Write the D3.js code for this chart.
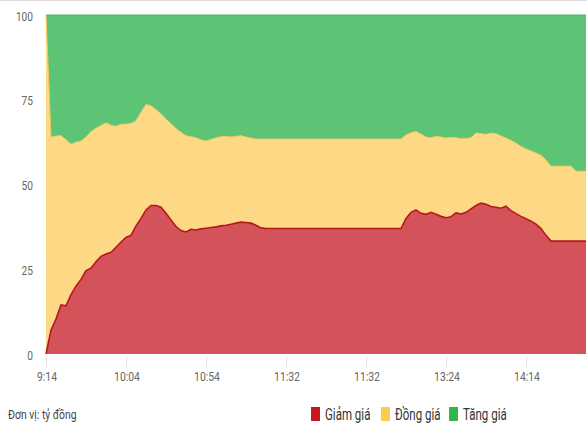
<!DOCTYPE html>
<html><head><meta charset="utf-8">
<script src="https://cdn.jsdelivr.net/npm/d3@7"></script>
<style>
html,body{margin:0;padding:0;background:#fff;}
svg{display:block;font-family:Roboto,"Open Sans",sans-serif;}
</style></head>
<body>
<svg id="chart" width="587" height="428"></svg>
<script>
// Data (percent share at each sampled time point)
const giamGia = [0,7,10.3,14.5,14.2,17.5,20,22,24.6,25.3,
27.2,28.8,29.5,30,31.5,33,34.4,35,37.8,40,
42.5,43.8,43.8,43.3,41.5,39.5,37.6,36.4,36,36.8,
36.6,36.9,37.1,37.3,37.5,37.8,38,38.3,38.6,38.9,
38.8,38.6,38.0,37.2,37,37,37,37,37,37,
37,37,37,37,37,37,37,37,37,37,
37,37,37,37,37,37,37,37,37,37,
37,37,40,41.8,42.5,41.5,41.2,41.8,41.2,40.6,
40.2,40.5,41.6,41.3,41.8,42.8,43.8,44.5,44.2,43.5,
43.3,43,43.6,42.3,41.4,40.6,39.9,39.2,38.3,37,
35,33.3,33.3,33.3,33.3,33.3,33.3,33.3,33.3];
const dongGia = [100,57,54,49.9,49,44.4,42.5,40.8,39.4,40.3,
39.4,38.6,38.7,37.5,35.7,34.8,33.4,33,31,31.3,
31.1,29.4,28.3,27.5,27.8,28.4,28.9,29,28.4,27.3,
27.2,26.3,25.7,26,26.3,26.3,26.2,25.7,25.6,25.5,
25.2,25.1,25.4,26.2,26.4,26.4,26.4,26.4,26.4,26.4,
26.4,26.4,26.4,26.4,26.4,26.4,26.4,26.4,26.4,26.4,
26.4,26.4,26.4,26.4,26.4,26.4,26.4,26.4,26.4,26.4,
26.4,26.4,24.6,23.5,23.1,23.4,22.8,22,23,23.4,
23.5,23.4,22.2,22.2,21.8,21,21.4,20.5,20.6,21.7,
21.7,21.3,20.1,20.7,20.8,20.6,20.6,20.7,21,21.6,
22.2,22.1,22.1,22.1,22.1,22.1,20.6,20.6,20.6];
const tangGia = [0,36,35.7,35.6,36.8,38.1,37.5,37.2,36,34.4,
33.4,32.6,31.8,32.5,32.8,32.2,32.2,32,31.2,28.7,
26.4,26.8,27.9,29.2,30.7,32.1,33.5,34.6,35.6,35.9,
36.2,36.8,37.2,36.7,36.2,35.9,35.8,36,35.8,35.6,
36,36.3,36.6,36.6,36.6,36.6,36.6,36.6,36.6,36.6,
36.6,36.6,36.6,36.6,36.6,36.6,36.6,36.6,36.6,36.6,
36.6,36.6,36.6,36.6,36.6,36.6,36.6,36.6,36.6,36.6,
36.6,36.6,35.4,34.7,34.4,35.1,36,36.2,35.8,36,
36.3,36.1,36.2,36.5,36.4,36.2,34.8,35,35.2,34.8,
35,35.7,36.3,37,37.8,38.8,39.5,40.1,40.7,41.4,
42.8,44.6,44.6,44.6,44.6,44.6,46.1,46.1,46.1];
const xTickLabels = ["9:14","10:04","10:54","11:32","11:32","13:24","14:14"];
const xTickIndex = [0,16,32,48,64,80,96];
const yTicks = [0,25,50,75,100];
const seriesNames = ["Giảm giá","Đồng giá","Tăng giá"];
const seriesKeys = ["giam","dong","tang"];

const fills = {giam:"#d4535b", dong:"#fdd985", tang:"#5dc476"};
const strokes = {giam:"#b8161e", dong:"#f5c85a", tang:"#4cb866"};
const legendColors = ["#c8171e","#fbcd4f","#2fb74b"];

const rows = giamGia.map((g,i)=>({i, giam:g, dong:dongGia[i], tang:tangGia[i]}));

const svg = d3.select("#chart");
const m = {left:46, right:1, top:15, bottom:74};
const W = 587, H = 428;

// condensed-looking text helper
function ctext(parent, px, py, str, size, fill, anchor, sx){
  const gg = parent.append("g").attr("transform",`translate(${px},${py}) scale(${sx},1)`);
  gg.append("text").attr("x",0).attr("y",0).attr("dy","0.35em")
    .attr("text-anchor",anchor).attr("font-size",size).attr("fill",fill).text(str);
  return gg;
}

svg.append("line").attr("x1",0).attr("x2",W).attr("y1",0.5).attr("y2",0.5)
  .attr("stroke","#dcdcdc").attr("stroke-width",1);

const x = d3.scaleLinear().domain([0, rows.length-1]).range([m.left, W - m.right]);
const y = d3.scaleLinear().domain([0,100]).range([H - m.bottom, m.top]);

const stack = d3.stack().keys(seriesKeys);
const layers = stack(rows);

const area = d3.area().x((d,i)=>x(i)).y0(d=>y(d[0])).y1(d=>y(d[1])).curve(d3.curveLinear);
const line = d3.line().x((d,i)=>x(i)).y(d=>y(d[1])).curve(d3.curveLinear);

const g = svg.append("g");
layers.forEach(l=>{
  g.append("path").datum(l).attr("d",area).attr("fill",fills[l.key]);
});
layers.slice().reverse().forEach(l=>{
  g.append("path").datum(l).attr("d",line).attr("fill","none")
   .attr("stroke",strokes[l.key]).attr("stroke-width", l.key==="giam"?1.6:1);
});

// y axis labels
const yg = svg.append("g");
yTicks.forEach(t=>{
  ctext(yg, 33, y(t)+1, t, 13, "#666", "end", 0.78);
});

// x axis
const xg = svg.append("g");
xTickIndex.forEach((ti,k)=>{
  const px = x(ti);
  xg.append("line").attr("x1",px+0.5).attr("x2",px+0.5).attr("y1",y(0)+3).attr("y2",y(0)+13)
    .attr("stroke","#e0e0e0");
  ctext(xg, px+1, y(0)+22, xTickLabels[k], 13, "#666", "middle", 0.8);
});

// footer
ctext(svg, 8, 414, "Đơn vị: tỷ đồng", 13, "#444", "start", 0.8);

const legendX = [311, 381, 449];
seriesNames.forEach((n,k)=>{
  svg.append("rect").attr("x",legendX[k]).attr("y",407).attr("width",9).attr("height",14)
    .attr("fill",legendColors[k]);
  ctext(svg, legendX[k]+14, 414, n, 16, "#333", "start", 0.72);
});
</script>
</body></html>
